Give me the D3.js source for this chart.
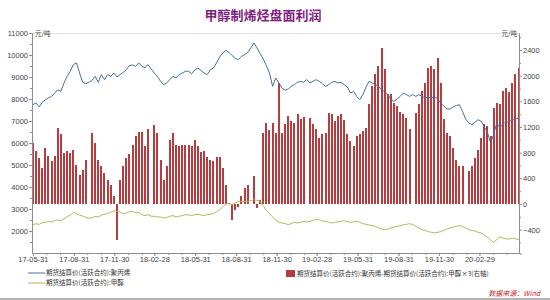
<!DOCTYPE html>
<html>
<head>
<meta charset="utf-8">
<script src="https://cdn.jsdelivr.net/npm/d3@7"></script>
<style>
body { margin: 0; background: #fff; }
svg { display: block; font-family: "Liberation Sans", "Noto Sans CJK SC", sans-serif; }
.axis path, .axis line { stroke: #8f8f8f; }
.axis text { fill: #444; font-size: 7.5px; font-family: "Liberation Sans", sans-serif; }
</style>
</head>
<body>
<div id="chart"></div>
<script>
// Variables
const width = 550;
const height = 300;

const margin = { top: 33, right: 31, bottom: 47, left: 32 };
const innerWidth = width - margin.left - margin.right;
const innerHeight = height - margin.top - margin.bottom;

const chartTitle = '甲醇制烯烃盘面利润';
const unitLabel = '元/吨';
const sourceLabel = '数据来源：Wind';
const ppName = '期货结算价(活跃合约):聚丙烯';
const meohName = '期货结算价(活跃合约):甲醇';
const spreadName = '期货结算价(活跃合约):聚丙烯-期货结算价(活跃合约):甲醇×3(右轴)';

// weekly observations, first one on 2017-05-31
const firstDate = '2017-05-31';

const ppPrice = [
  7740, 7820, 7640, 7850, 7970, 8050, 8120, 8270, 8420, 8350, 8730, 9030, 9260, 9560, 9640, 9180,
  8760, 8700, 8760, 8850, 9030, 8760, 9110, 8880, 9110, 9030, 9180, 9000, 9110, 9210, 9330, 9520,
  9545, 9485, 9640, 9485, 9425, 9560, 9360, 9180, 9030, 8800, 8650, 8730, 8880, 9030, 8955, 9110,
  9180, 9260, 9260, 9150, 9330, 9410, 9300, 9180, 9110, 9330, 9410, 9640, 9910, 10090,
  10210, 10120, 9970, 9850, 9790, 9940, 10015, 10120, 10320, 10545, 10320, 10060, 9820, 9515, 9180, 8575,
  8955, 8730, 8500, 8395, 8455, 8575, 8650, 8760, 8800, 8760, 8880, 8730, 8800, 8880, 8800, 8700, 8575,
  8650, 8760, 8800, 8730, 8760, 8650, 8545, 8270, 8350, 8120, 7970, 8200, 8545, 8800, 8730, 8650,
  8575, 8420, 8350, 8200, 7970, 7890, 8000, 8120, 8270, 8200, 8120, 8200, 8120, 8200, 8120, 8045,
  8090, 8045, 8120, 8000, 7820, 7670, 7545, 7545, 7640, 7700, 7740, 7440, 7090, 6910, 6830, 6940,
  7060, 6985, 6730, 6485, 6000, 6380, 6910, 6680, 6880, 6940, 6985, 7030, 7090, 7140
];

const meohPrice = [
  2290, 2330, 2300, 2380, 2400, 2430, 2410, 2480, 2500, 2460, 2560, 2650, 2720, 2850, 2800, 2720,
  2680, 2620, 2580, 2600, 2660, 2640, 2720, 2760, 2800, 2850, 2920, 2900, 2850, 2780, 2830, 2870,
  2895, 2820, 2850, 2745, 2700, 2745, 2670, 2670, 2640, 2640, 2590, 2620, 2670, 2700, 2640, 2670,
  2700, 2745, 2730, 2700, 2745, 2760, 2730, 2700, 2745, 2760, 2790, 2880, 2970, 3090,
  3230, 3240, 3200, 3270, 3330, 3350, 3350, 3350, 3380, 3425, 3395, 3350, 3150, 2940, 2790, 2640,
  2485, 2395, 2365, 2335, 2290, 2335, 2395, 2365, 2395, 2440, 2410, 2440, 2485, 2545, 2515, 2455, 2440,
  2395, 2365, 2395, 2410, 2440, 2470, 2425, 2395, 2425, 2440, 2395, 2335, 2305, 2275, 2245, 2210,
  2150, 2090, 2060, 2090, 2135, 2180, 2210, 2245, 2275, 2305, 2335, 2290, 2210, 2135, 2060, 2030,
  1970, 1940, 1910, 1940, 1970, 2030, 2090, 2135, 2180, 2210, 2245, 2210, 2135, 2060, 2030, 2000,
  1940, 1910, 1820, 1730, 1580, 1490, 1610, 1730, 1680, 1640, 1640, 1670, 1640, 1610
];

// PP - 3 x MeOH (right axis); null = holiday week
const spread = [
  953, 822, 718, 562, 875, 744, 666, 744, 1187, 1083, 797, 822, 797, 849, 614, 458,
  536, 692, null, 1109, 953, 692, 588, 484, 380, 302, 119, -560, 380, 588, 718, 780,
  927, 1057, 1120, 1120, 900, 1161, null, 1224, 1110, 692, 380, 588, 1000, 1109, 927, 900,
  927, 927, 927, 900, 1005, 900, 807, 822, 734, 692, 666, 734, 734, 562,
  300, 15, -245, -90, -40, 120, 250, 302, null, 432, -65, 67, 1109, 1265, 1160, 1265,
  1110, 1890, 1110, 1240, 1370, 1290, 1265, 1395, 1317, 1360, null, 1343, 1240, 1161, 1030, 1083, 1110,
  1422, 1396, 1292, 1370, 1396, 1307, 1083, 979, 900, 1060, 1083, 1135, 1187, 1552, 1838, 2020,
  2150, 2438, 2099, 1708, 1708, 1578, 1526, 1432, 1396, 1343, 1161, null, 1422, 1552, 1760, 1890,
  2125, 2150, 2110, 2280, 1890, 1317, 1110, 1057, 875, 692, 588, 588, null, 510, 598, 718,
  849, 1031, 1239, 1213, 1057, 1500, 1578, 1552, 1760, 1812, 1745, 1890, 2020, 2125
];

const xTickDates = ['2017-05-31', '2017-08-31', '2017-11-30', '2018-02-28', '2018-05-31', '2018-08-31',
  '2018-11-30', '2019-02-28', '2019-05-31', '2019-08-31', '2019-11-30', '2020-02-29'];
const leftTicks = [2000, 3000, 4000, 5000, 6000, 7000, 8000, 9000, 10000, 11000];
const rightTicks = [-400, 0, 400, 800, 1200, 1600, 2000, 2400];

const parseDate = d3.timeParse('%Y-%m-%d');
const fmtDate = d3.timeFormat('%y-%m-%d');
const start = parseDate(firstDate);
const dates = ppPrice.map((_, i) => d3.timeDay.offset(start, 7 * i));

const svg = d3.select('#chart').append('svg')
  .attr('width', width)
  .attr('height', height);

// title
svg.append('text')
  .text(chartTitle)
  .attr('x', 263).attr('y', 20)
  .attr('text-anchor', 'middle')
  .attr('font-family', '"Noto Sans CJK SC", sans-serif')
  .attr('font-weight', 'bold')
  .attr('font-size', 13)
  .attr('fill', '#7f1f80');

const chartGroup = svg.append('g')
  .attr('transform', `translate(${margin.left}, ${margin.top})`);

// scales
const xScale = d3.scaleTime()
  .domain([parseDate('2017-05-29'), parseDate('2020-05-28')])
  .range([0, innerWidth]);
const yLeft = d3.scaleLinear().domain([1000, 11000]).range([innerHeight, 0]);
const yRight = d3.scaleLinear().domain([-764, 2665]).range([innerHeight, 0]);

// top frame line
chartGroup.append('line')
  .attr('x1', 0).attr('x2', innerWidth)
  .attr('y1', 0.5).attr('y2', 0.5)
  .attr('stroke', '#e4e4e4');

// bars
const barW = 2;
chartGroup.append('g')
  .attr('shape-rendering', 'crispEdges')
  .selectAll('rect')
  .data(spread.map((v, i) => ({ date: dates[i], v })).filter(d => d.v !== null))
  .enter().append('rect')
    .attr('x', d => Math.round(xScale(d.date) - barW / 2))
    .attr('width', barW)
    .attr('y', d => yRight(Math.max(0, d.v)))
    .attr('height', d => Math.abs(yRight(d.v) - yRight(0)))
    .attr('fill', '#b83c3e');

// lines
const lineOf = (arr) => d3.line()
  .x((d, i) => xScale(dates[i]))
  .y(d => yLeft(d))(arr);

chartGroup.append('path')
  .attr('d', lineOf(ppPrice))
  .attr('fill', 'none')
  .attr('stroke', '#45709a')
  .attr('stroke-width', 1);

chartGroup.append('path')
  .attr('d', lineOf(meohPrice))
  .attr('fill', 'none')
  .attr('stroke', '#b4b85a')
  .attr('stroke-width', 1);

// axes
const xAxis = d3.axisBottom(xScale)
  .tickValues(xTickDates.map(parseDate))
  .tickFormat(fmtDate)
  .tickSize(3)
  .tickPadding(1)
  .tickSizeOuter(0);
chartGroup.append('g')
  .attr('class', 'axis')
  .attr('transform', `translate(0, ${innerHeight})`)
  .call(xAxis)
  .call(g => g.selectAll('text').attr('font-size', 7));

const monthEnds = d3.timeMonth.range(parseDate('2017-06-01'), parseDate('2020-06-01'))
  .map(m => d3.timeDay.offset(d3.timeMonth.offset(m, 1), -1));
chartGroup.append('g')
  .attr('class', 'axis')
  .attr('transform', `translate(0, ${innerHeight})`)
  .call(d3.axisBottom(xScale).tickValues(monthEnds).tickSize(2).tickSizeOuter(0))
  .call(g => g.selectAll('text').remove());

chartGroup.append('g')
  .attr('class', 'axis')
  .call(d3.axisLeft(yLeft).tickValues(leftTicks).tickFormat(d3.format('d')).tickSize(3).tickSizeOuter(0).tickPadding(1));
chartGroup.append('g')
  .attr('class', 'axis')
  .call(d3.axisLeft(yLeft).tickValues(d3.range(1500, 11000, 1000)).tickSize(2).tickSizeOuter(0))
  .call(g => g.selectAll('text').remove());

chartGroup.append('g')
  .attr('class', 'axis')
  .attr('transform', `translate(${innerWidth}, 0)`)
  .call(d3.axisRight(yRight).tickValues(rightTicks).tickFormat(d3.format('d')).tickSize(3).tickSizeOuter(0).tickPadding(1));
chartGroup.append('g')
  .attr('class', 'axis')
  .attr('transform', `translate(${innerWidth}, 0)`)
  .call(d3.axisRight(yRight).tickValues(d3.range(-600, 2665, 400)).tickSize(2).tickSizeOuter(0))
  .call(g => g.selectAll('text').remove());

// units
svg.append('text').text(unitLabel)
  .attr('x', 35).attr('y', 36)
  .attr('font-size', 6.5).attr('fill', '#444')
  .attr('font-family', '"Noto Sans CJK SC", sans-serif');
svg.append('text').text(unitLabel)
  .attr('x', 517).attr('y', 36)
  .attr('text-anchor', 'end')
  .attr('font-size', 6.5).attr('fill', '#444')
  .attr('font-family', '"Noto Sans CJK SC", sans-serif');

// legend
const legend = svg.append('g')
  .attr('font-family', '"Noto Sans CJK SC", sans-serif')
  .attr('font-size', 6.5)
  .attr('fill', '#333');

[[ppName, '#45709a', 273], [meohName, '#b4b85a', 283]].forEach(([name, color, y]) => {
  legend.append('line')
    .attr('x1', 28).attr('x2', 45)
    .attr('y1', y).attr('y2', y)
    .attr('stroke', color);
  legend.append('text').text(name)
    .attr('x', 46).attr('y', y + 2.3);
});

legend.append('rect')
  .attr('x', 286).attr('y', 270)
  .attr('width', 9).attr('height', 7)
  .attr('fill', '#b83c3e');
legend.append('text').text(spreadName)
  .attr('x', 297).attr('y', 275.5);

// source
svg.append('text').text(sourceLabel)
  .attr('x', 540).attr('y', 296)
  .attr('text-anchor', 'end')
  .attr('font-family', '"Noto Sans CJK SC", sans-serif')
  .attr('font-size', 7)
  .attr('font-style', 'italic')
  .attr('fill', '#c0282c');

// bottom frame line
svg.append('line')
  .attr('x1', 0).attr('x2', width)
  .attr('y1', 299).attr('y2', 299)
  .attr('stroke', '#9a9a9a')
  .attr('stroke-width', 1.5);
</script>
</body>
</html>
